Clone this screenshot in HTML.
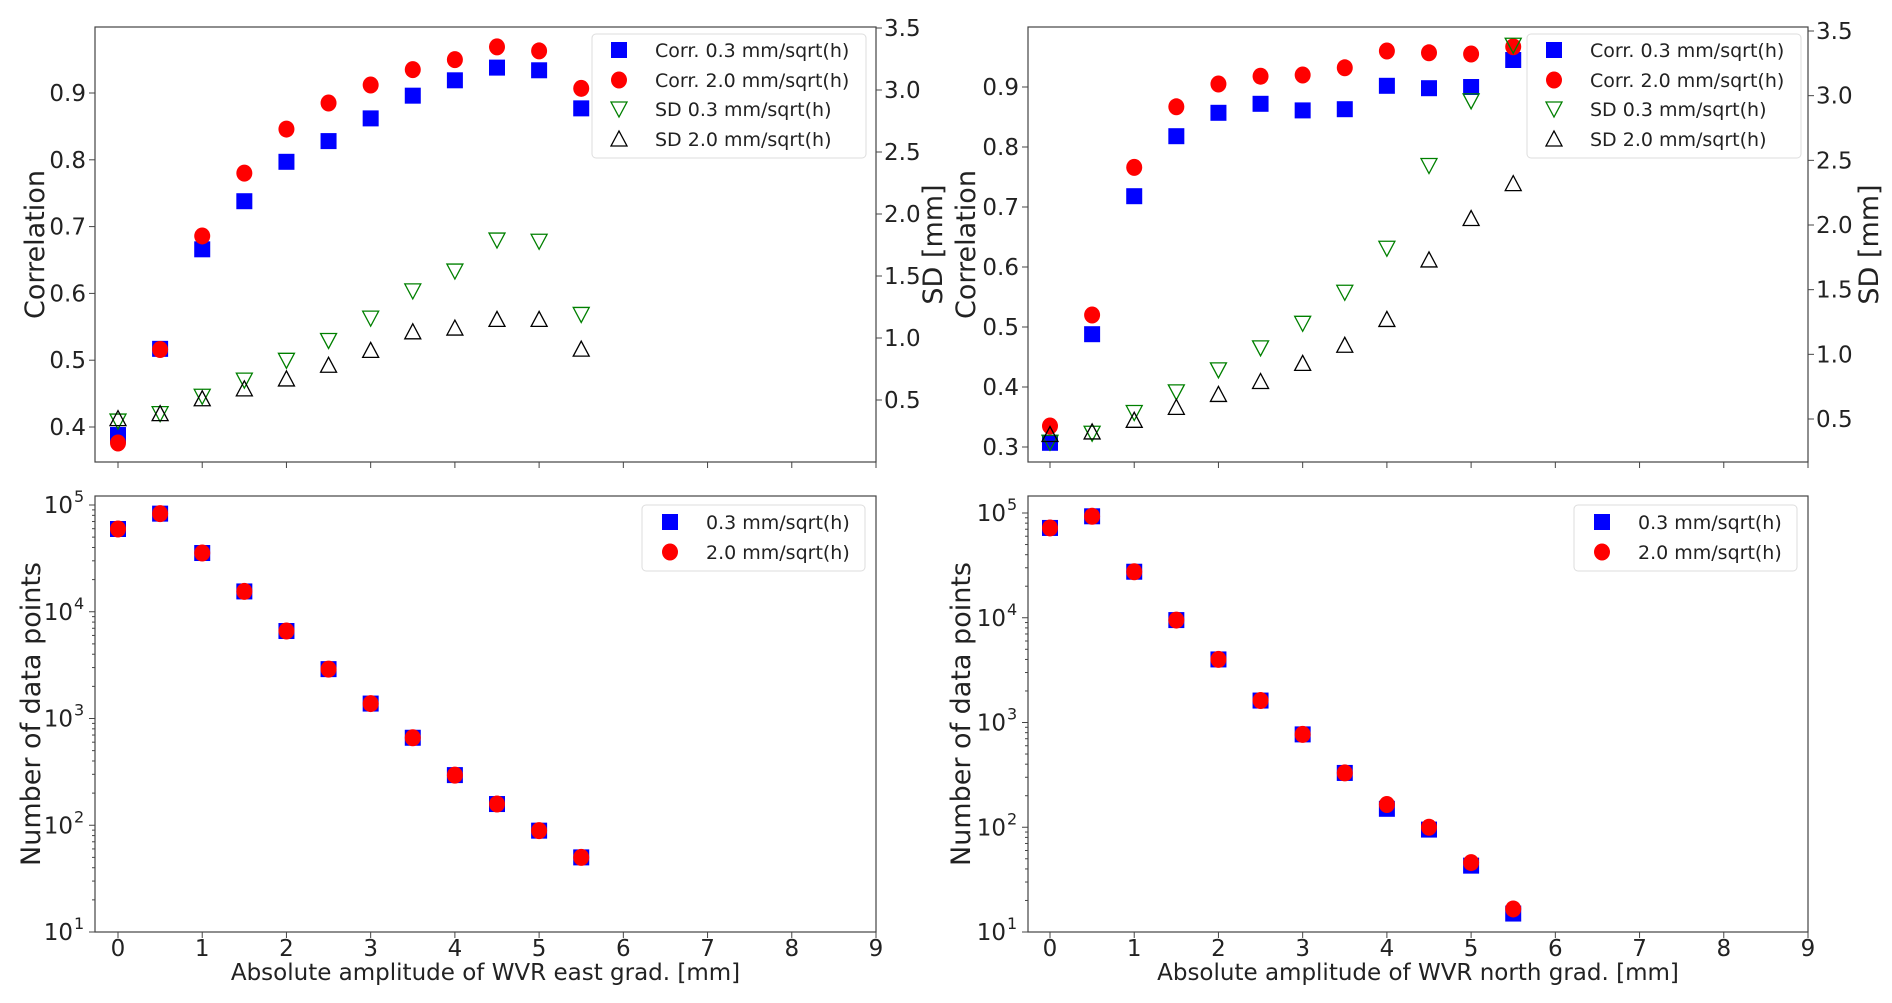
<!DOCTYPE html>
<html><head><meta charset="utf-8"><style>
html,body{margin:0;padding:0;background:#fff;}
svg{display:block;font-family:"DejaVu Sans","Liberation Sans",sans-serif;}
</style></head><body>
<svg id="fig" width="1892" height="1003" xmlns="http://www.w3.org/2000/svg"></svg>
<script>
const xs = [0,0.5,1,1.5,2,2.5,3,3.5,4,4.5,5,5.5];
// East panel
const eastCorr03 = [0.388,0.517,0.666,0.738,0.797,0.828,0.862,0.896,0.919,0.938,0.934,0.877];
const eastCorr20 = [0.376,0.516,0.686,0.780,0.846,0.885,0.912,0.935,0.950,0.969,0.963,0.907];
const eastSD03 = [0.33,0.39,0.53,0.66,0.82,0.98,1.16,1.38,1.54,1.79,1.78,1.19];
const eastSD20 = [0.35,0.39,0.51,0.59,0.67,0.78,0.90,1.05,1.08,1.15,1.15,0.91];
const eastN03 = [59600,83000,35500,15500,6600,2900,1380,660,295,158,89,50];
const eastN20 = [59600,83000,35500,15500,6600,2900,1380,660,295,158,89,50];
// North panel
const northCorr03 = [0.307,0.488,0.718,0.818,0.857,0.872,0.861,0.863,0.902,0.898,0.900,0.945];
const northCorr20 = [0.335,0.520,0.766,0.867,0.905,0.918,0.920,0.932,0.960,0.957,0.955,0.967];
const northSD03 = [0.32,0.39,0.55,0.71,0.88,1.05,1.24,1.48,1.82,2.46,2.96,3.39];
const northSD20 = [0.38,0.40,0.49,0.59,0.69,0.79,0.93,1.07,1.27,1.73,2.05,2.32];
const northN03 = [72000,93000,27500,9500,4000,1620,770,330,150,95,43,15];
const northN20 = [72000,93000,27500,9500,4000,1620,770,330,165,100,46,16.6];
// Ticks
const xTicks = [0,1,2,3,4,5,6,7,8,9];
const eastCorrTicks = [0.4,0.5,0.6,0.7,0.8,0.9];
const northCorrTicks = [0.3,0.4,0.5,0.6,0.7,0.8,0.9];
const sdTicks = [0.5,1.0,1.5,2.0,2.5,3.0,3.5];
const logTicks = [1,2,3,4,5];
const legTop = ["Corr. 0.3 mm/sqrt(h)","Corr. 2.0 mm/sqrt(h)","SD 0.3 mm/sqrt(h)","SD 2.0 mm/sqrt(h)"];
const legBot = ["0.3 mm/sqrt(h)","2.0 mm/sqrt(h)"];

const NS="http://www.w3.org/2000/svg";
const fig=document.getElementById('fig');
function mk(tag,attrs,parent){const e=document.createElementNS(NS,tag);for(const k in attrs)e.setAttribute(k,attrs[k]);(parent||fig).appendChild(e);return e;}
function lin(d0,d1,p0,p1){return v=>p0+(v-d0)*(p1-p0)/(d1-d0);}

function square(g,x,y){const e=mk('rect',{x:x-8,y:y-8,width:16,height:16,fill:'#0000ff'},g);return e;}
function circle(g,x,y){const e=mk('ellipse',{cx:x,cy:y,rx:8,ry:8.5,fill:'#ff0000'},g);return e;}
function triDown(g,x,y){const e=mk('polygon',{points:`${x-8},${y-7} ${x+8},${y-7} ${x},${y+8}`,fill:'none',stroke:'#008000','stroke-width':1.3},g);return e;}
function triUp(g,x,y){const e=mk('polygon',{points:`${x-8},${y+7} ${x+8},${y+7} ${x},${y-8}`,fill:'none',stroke:'#000','stroke-width':1.3},g);return e;}

function frame(L,R,T,B,name){const r=mk('rect',{x:L,y:T,width:R-L,height:B-T,fill:'none',stroke:'#444','stroke-width':1.2});}
function xAxis(L,R,T,B,X,labels,xlabel){
  xTicks.forEach(t=>{const px=X(t);mk('line',{x1:px,y1:B,x2:px,y2:B+6,stroke:'#444','stroke-width':1});
    if(labels){const tx=mk('text',{x:px,y:956,'font-size':23,'text-anchor':'middle',fill:'#222'});tx.textContent=t;}});
  if(xlabel){const tx=mk('text',{x:(L+R)/2,y:980,'font-size':23,'text-anchor':'middle',fill:'#222'});tx.textContent=xlabel;}
}
function yLabel(x,y,text,name){const t=mk('text',{x:x,y:y,'font-size':27,'text-anchor':'middle',fill:'#222',transform:`rotate(-90 ${x} ${y})`});t.textContent=text;}
function legend(x0,y0,w,h,items,markers,mx,tx,ys,name){
  const g=mk('g',{});
  mk('rect',{x:x0,y:y0,width:w,height:h,rx:4,fill:'#fff','fill-opacity':0.85,stroke:'#ddd','stroke-width':1},g);
  items.forEach((s,i)=>{markers[i](g,mx,ys[i]);const t=mk('text',{x:tx,y:ys[i]+7,'font-size':19,fill:'#222'},g);t.textContent=s;});
}

function topPanel(cfg){
  const {L,R,T,B,X,Y,Y2,corrTicks,c03,c20,s03,s20,ylx,y2lx,leg}=cfg;
  frame(L,R,T,B,'correlation-plot-frame');
  xAxis(L,R,T,B,X,false,null);
  corrTicks.forEach(t=>{const py=Y(t);mk('line',{x1:L-6,y1:py,x2:L,y2:py,stroke:'#444'});const tx=mk('text',{x:L-9,y:py+8,'font-size':23,'text-anchor':'end',fill:'#222'});tx.textContent=t.toFixed(1);});
  sdTicks.forEach(t=>{const py=Y2(t);mk('line',{x1:R,y1:py,x2:R+6,y2:py,stroke:'#444'});const tx=mk('text',{x:R+8,y:py+8,'font-size':23,fill:'#222'});tx.textContent=t.toFixed(1);});
  yLabel(ylx,(T+B)/2,'Correlation','correlation-axis-title');
  yLabel(y2lx,(T+B)/2,'SD [mm]','sd-axis-title');
  const g=mk('g',{});
  xs.forEach((x,i)=>square(g,X(x),Y(c03[i])));
  xs.forEach((x,i)=>circle(g,X(x),Y(c20[i])));
  xs.forEach((x,i)=>triDown(g,X(x),Y2(s03[i])));
  xs.forEach((x,i)=>triUp(g,X(x),Y2(s20[i])));
  legend(leg[0],34,274,124,legTop,[square,circle,triDown,triUp],leg[0]+27,leg[0]+63,[50,80,109,139],'correlation-legend');
}
function botPanel(cfg){
  const {L,R,T,B,X,Y,n03,n20,ylx,xlabel,leg}=cfg;
  frame(L,R,T,B,'count-plot-frame');
  xAxis(L,R,T,B,X,true,xlabel);
  logTicks.forEach(t=>{const py=Y(t);mk('line',{x1:L-6,y1:py,x2:L,y2:py,stroke:'#444'});
    for(let m=2;m<10&&t<5;m++){const pm=Y(t+Math.log10(m));mk('line',{x1:L-3,y1:pm,x2:L,y2:pm,stroke:'#444'});}
    const tx=mk('text',{x:L-22,y:py+8,'font-size':23,'text-anchor':'end',fill:'#222'});tx.textContent='10';
    const sp=mk('text',{x:L-21,y:py-3,'font-size':16,fill:'#222'});sp.textContent=t;});
  yLabel(ylx,(T+B)/2,'Number of data points','count-axis-title');
  const g=mk('g',{});
  xs.forEach((x,i)=>square(g,X(x),Y(Math.log10(n03[i]))));
  xs.forEach((x,i)=>circle(g,X(x),Y(Math.log10(n20[i]))));
  legend(leg[0],505,223,66,legBot,[square,circle],leg[0]+28,leg[0]+64,[522,552],'count-legend');
}

topPanel({L:95,R:876,T:27,B:462,X:lin(0,9,118,876),Y:lin(0.4,0.9,427,93),Y2:lin(0.5,3.5,400,28),
  corrTicks:eastCorrTicks,c03:eastCorr03,c20:eastCorr20,s03:eastSD03,s20:eastSD20,ylx:44,y2lx:942,leg:[592]});
botPanel({L:95,R:876,T:496,B:932,X:lin(0,9,118,876),Y:lin(1,5,932,505),n03:eastN03,n20:eastN20,ylx:40,
  xlabel:'Absolute amplitude of WVR east grad. [mm]',leg:[642]});
topPanel({L:1028,R:1808,T:27,B:462,X:lin(0,9,1050,1808),Y:lin(0.3,0.9,447,87),Y2:lin(0.5,3.5,419,31),
  corrTicks:northCorrTicks,c03:northCorr03,c20:northCorr20,s03:northSD03,s20:northSD20,ylx:975,y2lx:1878,leg:[1527]});
botPanel({L:1028,R:1808,T:496,B:932,X:lin(0,9,1050,1808),Y:lin(1,5,932,513),n03:northN03,n20:northN20,ylx:970,
  xlabel:'Absolute amplitude of WVR north grad. [mm]',leg:[1574]});
</script>
</body></html>
